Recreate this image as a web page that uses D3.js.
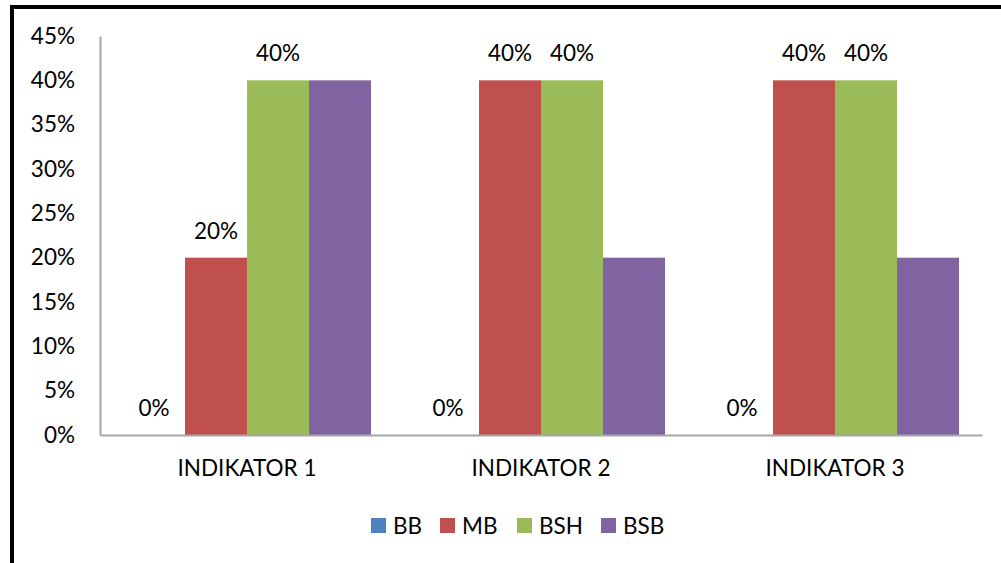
<!DOCTYPE html>
<html>
<head>
<meta charset="utf-8">
<script src="https://cdn.jsdelivr.net/npm/d3@7/dist/d3.min.js"></script>
<style>
  html, body { margin: 0; padding: 0; background: #fff; }
  svg { display: block; }
  text { font-family: Lato, "Open Sans", sans-serif; fill: #000; }
</style>
</head>
<body>
<svg id="chart" width="1001" height="563"></svg>
<script>
// Indicator categories and the four assessment series (shares)
const categories = ["INDIKATOR 1", "INDIKATOR 2", "INDIKATOR 3"];
const seriesNames = ["BB", "MB", "BSH", "BSB"];
const seriesColors = ["#4F81BD", "#C0504D", "#9BBB59", "#8064A2"];
const valuesBB  = [0.00, 0.00, 0.00];
const valuesMB  = [0.20, 0.40, 0.40];
const valuesBSH = [0.40, 0.40, 0.40];
const valuesBSB = [0.40, 0.20, 0.20];
// Series whose values are printed above the bars
const labelledSeries = ["BB", "MB", "BSH"];
const yTicks = [0, 0.05, 0.10, 0.15, 0.20, 0.25, 0.30, 0.35, 0.40, 0.45];

const seriesValues = [valuesBB, valuesMB, valuesBSH, valuesBSB];
const rows = categories.map((c, i) => ({
  category: c,
  values: seriesNames.map((s, j) => ({ series: s, value: seriesValues[j][i], color: seriesColors[j] }))
}));

const svg = d3.select("#chart");
const plot = { left: 100, right: 982, top: 36, bottom: 435 };
const fontSize = 22.5;
const fontFamily = "Lato, 'Open Sans', sans-serif";

// Frame: heavy rule along top and left edges
svg.append("line").attr("x1", 10).attr("x2", 1001).attr("y1", 7).attr("y2", 7)
  .attr("stroke", "#000").attr("stroke-width", 4);
svg.append("line").attr("x1", 12).attr("x2", 12).attr("y1", 5).attr("y2", 563)
  .attr("stroke", "#000").attr("stroke-width", 4);

const x0 = d3.scaleBand().domain(categories).range([plot.left, plot.right]).paddingInner(0).paddingOuter(0);
const groupPad = x0.bandwidth() * (23 / 294);
const x1 = d3.scaleBand().domain(seriesNames).range([groupPad, x0.bandwidth() - groupPad]).padding(0);
const y = d3.scaleLinear().domain([0, 0.45]).range([plot.bottom, plot.top]);
const pct = d3.format(".0%");

// Y axis
const yAxis = svg.append("g").attr("transform", `translate(${plot.left},0)`)
  .call(d3.axisLeft(y).tickValues(yTicks).tickFormat(pct).tickSize(0).tickPadding(25));
yAxis.select(".domain").attr("stroke", "#A6A6A6").attr("stroke-width", 2);
yAxis.selectAll("text").style("font-size", fontSize + "px").style("font-family", fontFamily);

// Bars
const groups = svg.append("g").selectAll("g").data(rows).join("g")
  .attr("transform", d => `translate(${x0(d.category)},0)`);
groups.selectAll("rect").data(d => d.values).join("rect")
  .attr("x", d => x1(d.series))
  .attr("width", x1.bandwidth())
  .attr("y", d => y(d.value))
  .attr("height", d => y(0) - y(d.value))
  .attr("fill", d => d.color);

// Value labels
groups.selectAll("text.val").data(d => d.values.filter(v => labelledSeries.includes(v.series)))
  .join("text").attr("class", "val")
  .attr("x", d => x1(d.series) + x1.bandwidth() / 2)
  .attr("y", d => y(d.value) - 19)
  .attr("text-anchor", "middle")
  .style("font-size", fontSize + "px")
  .text(d => pct(d.value));

// X axis
const xAxis = svg.append("g").attr("transform", `translate(0,${plot.bottom})`)
  .call(d3.axisBottom(x0).tickSize(0).tickPadding(25).tickSizeOuter(0));
xAxis.select(".domain").attr("stroke", "#A6A6A6").attr("stroke-width", 2);
xAxis.selectAll("text").style("font-size", fontSize + "px").style("font-family", fontFamily);

// Legend
const legendX = [371, 440, 517, 601];
const legend = svg.append("g").selectAll("g").data(seriesNames).join("g")
  .attr("transform", (d, i) => `translate(${legendX[i]},518)`);
legend.append("rect").attr("width", 15).attr("height", 15)
  .attr("fill", (d, i) => seriesColors[i]);
legend.append("text").attr("x", 22).attr("y", 15.5)
  .style("font-size", fontSize + "px").text(d => d);
</script>
</body>
</html>
